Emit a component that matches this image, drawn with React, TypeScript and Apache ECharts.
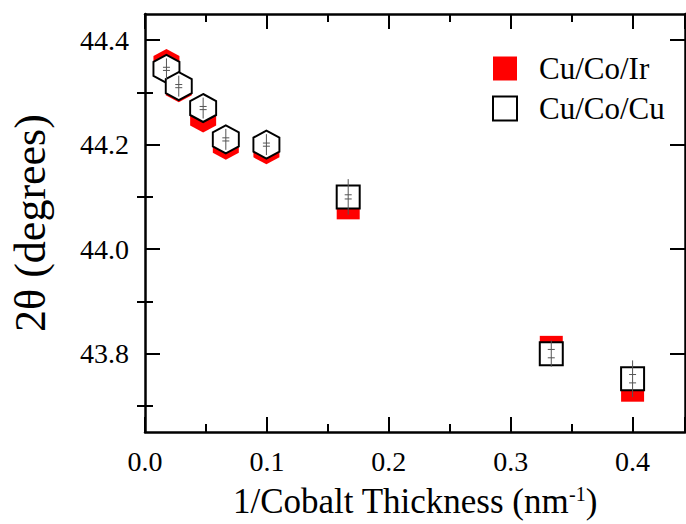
import React, { useEffect, useRef } from "react";
import * as echarts from "echarts";

// 1/Cobalt thickness (nm^-1)
const xVals = [0.0176, 0.0277, 0.0477, 0.0663, 0.0996, 0.1667, 0.3333, 0.4];
// 2θ (degrees)
const cuCoIr = [44.356, 44.308, 44.25, 44.198, 44.189, 44.079, 43.812, 43.73];
const cuCoCu = [44.345, 44.312, 44.27, 44.21, 44.2, 44.1, 43.8, 43.752];
const markerShapes = ["hex", "hex", "hex", "hex", "hex", "square", "square", "square"];
// error bars (drawn around Cu/Co/Cu values)
const errLine = [0.02, 0.02, 0.02, 0.02, 0.02, 0.034, 0.025, 0.035];
const errCap = [0.003, 0.003, 0.003, 0.003, 0.003, 0.004, 0.008, 0.008];

const yMajorTicks = [43.8, 44.0, 44.2, 44.4];
const yMinorTicks = [43.7, 43.9, 44.1, 44.3];
const seriesNames = ["Cu/Co/Ir", "Cu/Co/Cu"];

const FONT = "'Liberation Serif', 'Times New Roman', serif";
const HEX = "path://M0,-1L0.866,-0.5L0.866,0.5L0,1L-0.866,0.5L-0.866,-0.5Z";

function symbolFor(shape: string) {
  return shape === "hex"
    ? { symbol: HEX, symbolSize: [26, 28] }
    : { symbol: "rect", symbolSize: [23, 23] };
}

export default function App() {
  const ref = useRef<HTMLDivElement>(null);

  useEffect(() => {
    document.body.style.margin = "0";
    if (!ref.current) return;
    const chart = echarts.init(ref.current, null, { renderer: "svg" });

    const xMin = 0;
    const xMax = 0.443;
    const yMin = 43.65;
    const yMax = 44.45;

    const axisLine = { show: true, onZero: false, lineStyle: { color: "#000", width: 2.5 } };
    const tickStyle = { color: "#000", width: 2 };

    const xCommon = {
      type: "value",
      min: xMin,
      max: xMax,
      interval: 0.1,
      axisLine,
      axisTick: { show: true, inside: true, length: 15, lineStyle: tickStyle },
      minorTick: { show: true, splitNumber: 2, length: 8, lineStyle: tickStyle },
      splitLine: { show: false },
      minorSplitLine: { show: false },
    };

    const yBase = (position: string, ticks: number[], len: number, labels: boolean) => ({
      type: "value",
      position,
      min: yMin,
      max: yMax,
      axisLine,
      axisTick: { show: true, inside: true, length: len, lineStyle: tickStyle, customValues: ticks },
      axisLabel: labels
        ? {
            show: true,
            customValues: ticks,
            margin: 16,
            fontFamily: FONT,
            fontSize: 28,
            color: "#000",
            formatter: (v: number) => v.toFixed(1),
          }
        : { show: false },
      splitLine: { show: false },
    });

    const mkData = (vals: number[]) =>
      vals.map((v, i) => ({ value: [xVals[i], v], ...symbolFor(markerShapes[i]) }));

    chart.setOption({
      animation: false,
      backgroundColor: "#fff",
      grid: { left: 140, right: 1, top: 14, bottom: 84, containLabel: false },
      legend: {
        orient: "vertical",
        left: 487,
        top: 48,
        itemWidth: 24,
        itemHeight: 24,
        itemGap: 9,
        selectedMode: false,
        icon: "rect",
        data: seriesNames,
        textStyle: { fontFamily: FONT, fontSize: 31, color: "#000", padding: [0, 0, 0, 17] },
      },
      xAxis: [
        {
          ...xCommon,
          position: "bottom",
          name: "1/Cobalt Thickness (nm{sup|-1})",
          nameLocation: "middle",
          nameGap: 52,
          nameTextStyle: {
            fontFamily: FONT,
            fontSize: 35,
            color: "#000",
            rich: { sup: { fontFamily: FONT, fontSize: 20, verticalAlign: "top", padding: [0, 0, 15, 0], color: "#000" } },
          },
          axisLabel: {
            show: true,
            showMaxLabel: false,
            margin: 15,
            fontFamily: FONT,
            fontSize: 28,
            color: "#000",
            formatter: (v: number) => v.toFixed(1),
          },
        },
        {
          ...xCommon,
          position: "top",
          axisLabel: { show: false },
        },
      ],
      yAxis: [
        {
          ...yBase("left", yMajorTicks, 15, true),
          name: "2θ (degrees)",
          nameLocation: "middle",
          nameGap: 93,
          nameRotate: 90,
          nameTextStyle: { fontFamily: FONT, fontSize: 44, color: "#000" },
        },
        { ...yBase("left", yMinorTicks, 8, false), axisLine: { show: false } },
        yBase("right", yMajorTicks, 15, false),
        { ...yBase("right", yMinorTicks, 8, false), axisLine: { show: false } },
      ],
      series: [
        {
          name: seriesNames[0],
          type: "scatter",
          xAxisIndex: 0,
          yAxisIndex: 0,
          symbol: "rect",
          symbolSize: 23,
          itemStyle: { color: "#ff0000", opacity: 1 },
          z: 2,
          data: mkData(cuCoIr),
        },
        {
          name: seriesNames[1],
          type: "scatter",
          xAxisIndex: 0,
          yAxisIndex: 0,
          symbol: "rect",
          symbolSize: 23,
          itemStyle: { color: "#fff", borderColor: "#000", borderWidth: 2, opacity: 1 },
          z: 3,
          data: mkData(cuCoCu),
        },
        {
          type: "custom",
          xAxisIndex: 0,
          yAxisIndex: 0,
          z: 4,
          silent: true,
          encode: { x: 0, y: 1 },
          data: xVals.map((x, i) => [x, cuCoCu[i], errLine[i], errCap[i]]),
          renderItem: (params: any, api: any) => {
            const x = api.value(0);
            const y = api.value(1);
            const e = api.value(2);
            const c = api.value(3);
            const top = api.coord([x, y + e]);
            const bot = api.coord([x, y - e]);
            const c1 = api.coord([x, y + c]);
            const c2 = api.coord([x, y - c]);
            const hw = 3.5;
            const st = { stroke: "#555", lineWidth: 1 };
            return {
              type: "group",
              children: [
                { type: "line", shape: { x1: top[0], y1: top[1], x2: bot[0], y2: bot[1] }, style: st },
                { type: "line", shape: { x1: c1[0] - hw, y1: c1[1], x2: c1[0] + hw, y2: c1[1] }, style: st },
                { type: "line", shape: { x1: c2[0] - hw, y1: c2[1], x2: c2[0] + hw, y2: c2[1] }, style: st },
              ],
            };
          },
        },
      ],
    });

    return () => chart.dispose();
  }, []);

  return (
    <div
      ref={ref}
      style={{ position: "absolute", left: 0, top: 0, width: 686, height: 524 }}
    />
  );
}
